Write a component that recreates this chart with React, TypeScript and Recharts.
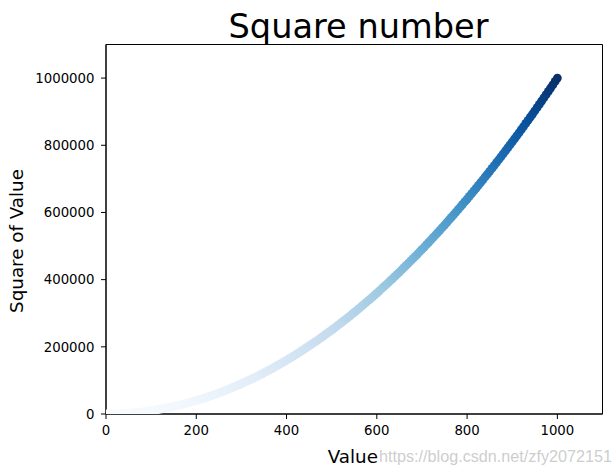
import React from 'react';
import { ScatterChart, Scatter, XAxis, YAxis, ReferenceArea, Customized } from 'recharts';

const xValues = [
  1, 5, 10, 15, 20, 25, 30, 35, 40, 45, 50, 55, 60, 65, 70, 75, 80, 85, 90, 95, 100,
  105, 110, 115, 120, 125, 130, 135, 140, 145, 150, 155, 160, 165, 170, 175, 180, 185, 190, 195, 200,
  205, 210, 215, 220, 225, 230, 235, 240, 245, 250, 255, 260, 265, 270, 275, 280, 285, 290, 295, 300,
  305, 310, 315, 320, 325, 330, 335, 340, 345, 350, 355, 360, 365, 370, 375, 380, 385, 390, 395, 400,
  405, 410, 415, 420, 425, 430, 435, 440, 445, 450, 455, 460, 465, 470, 475, 480, 485, 490, 495, 500,
  505, 510, 515, 520, 525, 530, 535, 540, 545, 550, 555, 560, 565, 570, 575, 580, 585, 590, 595, 600,
  605, 610, 615, 620, 625, 630, 635, 640, 645, 650, 655, 660, 665, 670, 675, 680, 685, 690, 695, 700,
  705, 710, 715, 720, 725, 730, 735, 740, 745, 750, 755, 760, 765, 770, 775, 780, 785, 790, 795, 800,
  805, 810, 815, 820, 825, 830, 835, 840, 845, 850, 855, 860, 865, 870, 875, 880, 885, 890, 895, 900,
  905, 910, 915, 920, 925, 930, 935, 940, 945, 950, 955, 960, 965, 970, 975, 980, 985, 990, 995, 1000,
];

const yValues = [
  1, 25, 100, 225, 400, 625, 900, 1225, 1600, 2025, 2500,
  3025, 3600, 4225, 4900, 5625, 6400, 7225, 8100, 9025, 10000,
  11025, 12100, 13225, 14400, 15625, 16900, 18225, 19600, 21025, 22500,
  24025, 25600, 27225, 28900, 30625, 32400, 34225, 36100, 38025, 40000,
  42025, 44100, 46225, 48400, 50625, 52900, 55225, 57600, 60025, 62500,
  65025, 67600, 70225, 72900, 75625, 78400, 81225, 84100, 87025, 90000,
  93025, 96100, 99225, 102400, 105625, 108900, 112225, 115600, 119025, 122500,
  126025, 129600, 133225, 136900, 140625, 144400, 148225, 152100, 156025, 160000,
  164025, 168100, 172225, 176400, 180625, 184900, 189225, 193600, 198025, 202500,
  207025, 211600, 216225, 220900, 225625, 230400, 235225, 240100, 245025, 250000,
  255025, 260100, 265225, 270400, 275625, 280900, 286225, 291600, 297025, 302500,
  308025, 313600, 319225, 324900, 330625, 336400, 342225, 348100, 354025, 360000,
  366025, 372100, 378225, 384400, 390625, 396900, 403225, 409600, 416025, 422500,
  429025, 435600, 442225, 448900, 455625, 462400, 469225, 476100, 483025, 490000,
  497025, 504100, 511225, 518400, 525625, 532900, 540225, 547600, 555025, 562500,
  570025, 577600, 585225, 592900, 600625, 608400, 616225, 624100, 632025, 640000,
  648025, 656100, 664225, 672400, 680625, 688900, 697225, 705600, 714025, 722500,
  731025, 739600, 748225, 756900, 765625, 774400, 783225, 792100, 801025, 810000,
  819025, 828100, 837225, 846400, 855625, 864900, 874225, 883600, 893025, 902500,
  912025, 921600, 931225, 940900, 950625, 960400, 970225, 980100, 990025, 1000000,
];

const xTicks = [0, 200, 400, 600, 800, 1000];
const yTicks = [0, 200000, 400000, 600000, 800000, 1000000];

const title = 'Square number';
const xLabel = 'Value';
const yLabel = 'Square of Value';
const watermark = 'https://blog.csdn.net/zfy2072151';

// matplotlib "Blues" colormap stops
const blues = ['#f7fbff', '#deebf7', '#c6dbef', '#9ecae1', '#6baed6', '#4292c6', '#2171b5', '#08519c', '#08306b'];

const hex = (h: string) => [parseInt(h.slice(1, 3), 16), parseInt(h.slice(3, 5), 16), parseInt(h.slice(5, 7), 16)];
const bluesRGB = blues.map(hex);

const yMin = Math.min(...yValues);
const yMax = Math.max(...yValues);

function cmap(v: number) {
  let t = (v - yMin) / (yMax - yMin);
  t = Math.max(0, Math.min(1, t));
  const pos = t * (bluesRGB.length - 1);
  const i = Math.min(Math.floor(pos), bluesRGB.length - 2);
  const f = pos - i;
  const a = bluesRGB[i];
  const b = bluesRGB[i + 1];
  const c = a.map((av, k) => Math.round(av + (b[k] - av) * f));
  return `rgb(${c[0]},${c[1]},${c[2]})`;
}

const data = xValues.map((x, i) => ({ x, y: yValues[i] }));

const FONT = '"DejaVu Sans", sans-serif';

const Dot = (props: any) => {
  const { cx, cy, payload } = props;
  if (cx == null || cy == null) return null;
  return <circle cx={cx} cy={cy} r={4.4} fill={cmap(payload.y)} stroke="none" />;
};

const Texts = () => (
  <g>
    <text x={358.5} y={38.4} textAnchor="middle" fontFamily={FONT} fontSize={33.6} fill="#000">
      {title}
    </text>
    <text x={352.8} y={463} textAnchor="middle" fontFamily={FONT} fontSize={18.3} fill="#000">
      {xLabel}
    </text>
    <text
      x={0}
      y={0}
      transform="translate(23,241) rotate(-90)"
      textAnchor="middle"
      fontFamily={FONT}
      fontSize={18.3}
      fill="#000"
    >
      {yLabel}
    </text>
    <text
      x={379}
      y={461.7}
      textLength={233}
      lengthAdjust="spacingAndGlyphs"
      fontFamily='"Liberation Sans", Arial, sans-serif'
      fontSize={16}
      fill="#c4c4c4"
      fillOpacity={0.85}
    >
      {watermark}
    </text>
  </g>
);

export default function App() {
  return (
    <div style={{ position: 'absolute', left: 0, top: 0, width: 615, height: 472, background: '#fff' }}>
      <ScatterChart width={615} height={472} margin={{ top: 44.5, right: 12.5, left: 0, bottom: 0 }}>
        <XAxis
          type="number"
          dataKey="x"
          domain={[0, 1100]}
          ticks={xTicks}
          allowDataOverflow
          height={58}
          tickSize={5}
          tickMargin={7}
          stroke="#000"
          tick={{ fill: '#000', fontSize: 13.3, fontFamily: FONT }}
          tickLine={{ stroke: '#000' }}
          axisLine={{ stroke: '#000' }}
        />
        <YAxis
          type="number"
          dataKey="y"
          domain={[0, 1100000]}
          ticks={yTicks}
          allowDataOverflow
          width={106}
          tickSize={5}
          tickMargin={6.5}
          stroke="#000"
          tick={{ fill: '#000', fontSize: 13.3, fontFamily: FONT }}
          tickLine={{ stroke: '#000' }}
          axisLine={{ stroke: '#000' }}
        />
        <Scatter data={data} shape={<Dot />} isAnimationActive={false} />
        <ReferenceArea
          x1={0}
          x2={1100}
          y1={0}
          y2={1100000}
          fill="none"
          fillOpacity={0}
          stroke="#000"
          strokeWidth={1}
          ifOverflow="visible"
        />
        <Customized component={Texts} />
      </ScatterChart>
    </div>
  );
}
